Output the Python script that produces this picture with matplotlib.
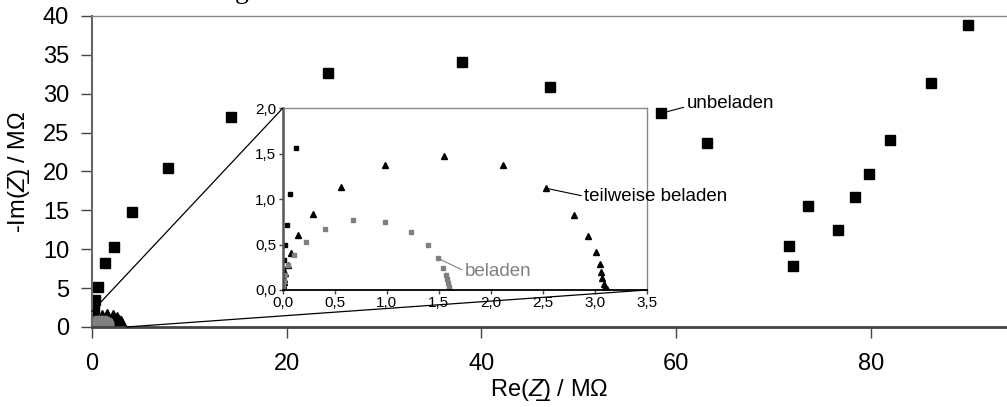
import matplotlib
matplotlib.use("Agg")
import matplotlib.pyplot as plt
from matplotlib.patches import ConnectionPatch
from matplotlib.ticker import FuncFormatter, MultipleLocator

plt.rcParams['font.family'] = ['Liberation Sans', 'DejaVu Sans']
plt.rcParams['mathtext.fontset'] = 'custom'
plt.rcParams['mathtext.rm'] = 'Liberation Sans'
plt.rcParams['mathtext.it'] = 'Liberation Sans:italic'

# unbeladen (black squares), Re / Im in MOhm
re_unb = [0.0, 0.0, 0.0, 0.002, 0.003, 0.005, 0.015, 0.025, 0.044, 0.073, 0.125,
          0.22, 0.35, 0.65, 1.3, 2.3, 4.1, 7.8, 14.3, 24.2, 38.0, 47.1, 58.5, 63.2,
          71.6, 72.0, 73.6, 76.6, 78.4, 79.8, 82.0, 86.2, 90.0]
im_unb = [0.0, 0.02, 0.05, 0.1, 0.15, 0.225, 0.33, 0.49, 0.72, 1.06, 1.567,
          2.4, 3.5, 5.2, 8.2, 10.3, 14.8, 20.4, 27.0, 32.7, 34.1, 30.9, 27.5, 23.7,
          10.4, 7.8, 15.6, 12.5, 16.7, 19.7, 24.0, 31.4, 38.9]

# teilweise beladen (black triangles)
re_tw = [0.0, 0.003, 0.006, 0.01, 0.015, 0.022, 0.048, 0.077, 0.15, 0.29, 0.56,
         0.985, 1.55, 2.12, 2.53, 2.80, 2.93, 3.01, 3.05, 3.06, 3.07, 3.09, 3.10, 3.12]
im_tw = [0.0, 0.03, 0.06, 0.09, 0.12, 0.19, 0.28, 0.41, 0.60, 0.84, 1.13,
         1.38, 1.48, 1.38, 1.12, 0.83, 0.595, 0.415, 0.286, 0.195, 0.13, 0.07, 0.035, 0.01]

# beladen (grey squares)
re_bel = [0.0, 0.005, 0.01, 0.02, 0.05, 0.11, 0.22, 0.41, 0.68, 0.98, 1.23, 1.40,
          1.49, 1.54, 1.57, 1.58, 1.59, 1.595, 1.60]
im_bel = [0.0, 0.05, 0.1, 0.17, 0.27, 0.39, 0.53, 0.675, 0.77, 0.745, 0.64, 0.49,
          0.35, 0.245, 0.17, 0.125, 0.08, 0.035, 0.01]

grey = '#808080'

fig = plt.figure(figsize=(10.07, 4.07), dpi=100)
ax = fig.add_axes([0.0914, 0.1966, 0.9086, 0.7641])

ax.plot(re_unb, im_unb, ls='none', marker='s', ms=6.5, color='k')
ax.plot(re_tw, im_tw, ls='none', marker='^', ms=8, color='k')
ax.plot(re_bel, im_bel, ls='none', marker='s', ms=6.5, color=grey)

ax.set_xlim(0, 94)
ax.set_ylim(0, 40)
ax.xaxis.set_major_locator(MultipleLocator(20))
ax.yaxis.set_major_locator(MultipleLocator(5))
ax.tick_params(axis='both', direction='out', length=8, width=1, color='#444444',
               labelsize=17)
ax.tick_params(axis='x', pad=11)
ax.tick_params(axis='y', pad=8.5)
ax.spines['right'].set_visible(False)
ax.spines['top'].set_color('#888888')
ax.spines['top'].set_linewidth(1)
ax.spines['left'].set_color('#666666')
ax.spines['left'].set_linewidth(1.5)
ax.spines['bottom'].set_color('#444444')
ax.spines['bottom'].set_linewidth(2)
ax.set_xlabel('Re($Z$\u0332) / M\u03a9', fontsize=17, labelpad=1)
ax.set_ylabel('-Im($Z$\u0332) / M\u03a9', fontsize=17, labelpad=8)

ax.annotate('unbeladen', xy=(re_unb[22], im_unb[22]), xytext=(25, 10),
            textcoords='offset pixels', ha='left', va='center', fontsize=13.5,
            arrowprops=dict(arrowstyle='-', color='k', lw=0.8, shrinkA=0,
                            shrinkB=3, relpos=(0, 0.3)))

# inset
axins = fig.add_axes([0.2807, 0.2875, 0.3618, 0.4464])
axins.set_facecolor('white')
axins.plot(re_unb, im_unb, ls='none', marker='s', ms=3.5, color='k')
axins.plot(re_tw, im_tw, ls='none', marker='^', ms=4.5, color='k')
axins.plot(re_bel, im_bel, ls='none', marker='s', ms=3.5, color=grey)
axins.set_xlim(0, 3.5)
axins.set_ylim(0, 2.0)
axins.xaxis.set_major_locator(MultipleLocator(0.5))
axins.yaxis.set_major_locator(MultipleLocator(0.5))
comma = FuncFormatter(lambda v, p: f'{v:.1f}'.replace('.', ','))
axins.xaxis.set_major_formatter(comma)
axins.yaxis.set_major_formatter(comma)
axins.tick_params(axis='both', direction='out', length=3, width=1,
                  color='#444444', labelsize=11, pad=1.5)
axins.spines['top'].set_color('#888888')
axins.spines['right'].set_color('#888888')
axins.spines['top'].set_linewidth(1)
axins.spines['right'].set_linewidth(1)
axins.spines['left'].set_color('#555555')
axins.spines['left'].set_linewidth(1.8)
axins.spines['bottom'].set_color('k')
axins.spines['bottom'].set_linewidth(1.3)

axins.annotate('teilweise beladen', xy=(re_tw[14], im_tw[14]), xytext=(38, -8),
               textcoords='offset pixels', ha='left', va='center', fontsize=13.5,
               arrowprops=dict(arrowstyle='-', color='k', lw=0.8, shrinkA=0,
                               shrinkB=2, relpos=(0, 0.5)))
axins.annotate('beladen', xy=(re_bel[12], im_bel[12]), xytext=(27, -13),
               textcoords='offset pixels', ha='left', va='center', fontsize=13.5,
               color=grey,
               arrowprops=dict(arrowstyle='-', color=grey, lw=0.8, shrinkA=0,
                               shrinkB=2, relpos=(0, 0.5)))

# zoom lines
for a, b in [((0, 2.0), (0, 2.0)), ((3.5, 0), (3.5, 0))]:
    con = ConnectionPatch(xyA=a, coordsA=ax.transData, xyB=b, coordsB=axins.transData,
                          color='k', lw=0.9)
    fig.add_artist(con)

# cut-off title above the figure
fig.text(0.2334, 1.004, 'g', family='Liberation Serif', fontsize=20,
         ha='left', va='baseline')

fig.savefig('out.png', dpi=100)
